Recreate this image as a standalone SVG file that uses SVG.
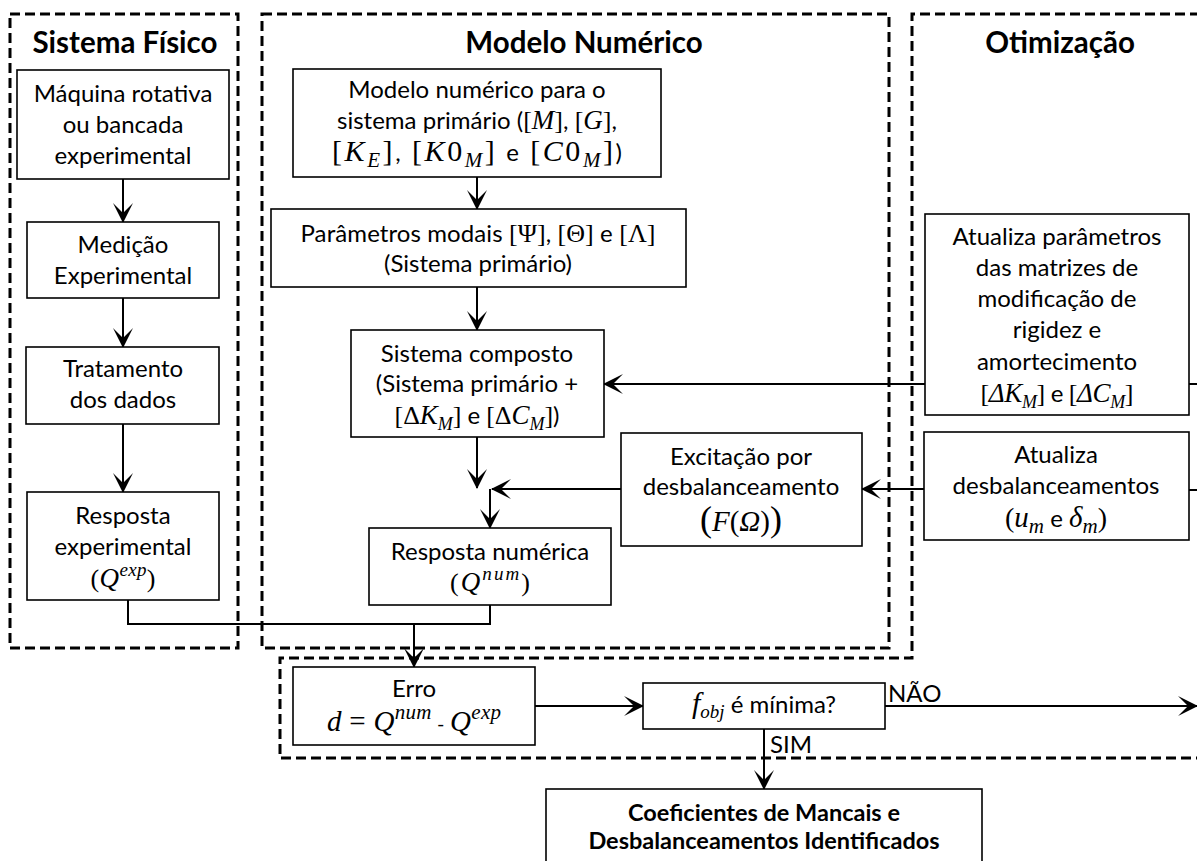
<svg xmlns="http://www.w3.org/2000/svg" width="1197" height="861" viewBox="0 0 1197 861">
<defs>
<style>
.bg{fill:#fff}
.box{fill:#fff;stroke:#000;stroke-width:1.6}
.dash{fill:none;stroke:#000;stroke-width:3;stroke-dasharray:10 5}
.c{fill:none;stroke:#000;stroke-width:2}
.t{font-family:Lato,"Open Sans",sans-serif;font-size:24px;fill:#000;text-anchor:middle}
.l{text-anchor:start}
.h{font-weight:bold;font-size:29.5px}
.b{font-weight:bold;font-size:23.5px}
.m{font-family:"Liberation Serif",serif;font-size:26px}
.mi{font-family:"Liberation Serif",serif;font-style:italic;font-size:27px}
.s{font-size:18px}
.p{font-size:19px}
.L{font-size:30px}
.Ls{font-size:21px}
</style>
<marker id="ah" markerUnits="userSpaceOnUse" markerWidth="24" markerHeight="24" viewBox="-22 -12 24 24" refX="0" refY="0" orient="auto">
<path d="M1,0 L-19,-10 L-9,0 L-19,10 Z" fill="#000"/>
</marker>
</defs>
<rect class="bg" x="0" y="0" width="1197" height="861"/>

<g id="regions">
<rect id="sistema-fisico" class="dash" x="10" y="14" width="228" height="634"/>
<rect id="modelo-numerico" class="dash" x="262" y="14" width="627" height="634"/>
<path id="otimizacao" class="dash" d="M1200,14 H912 V658 H280 V758 H1200"/>
<text class="t h" x="125" y="53">Sistema Físico</text>
<text class="t h" x="584" y="53">Modelo Numérico</text>
<text class="t h" x="1060" y="53">Otimização</text>
</g>

<g id="connectors">
<line class="c" x1="123" y1="179" x2="123" y2="222" marker-end="url(#ah)"/>
<line class="c" x1="123" y1="298" x2="123" y2="347" marker-end="url(#ah)"/>
<line class="c" x1="123" y1="424" x2="123" y2="492" marker-end="url(#ah)"/>
<polyline class="c" points="128,600 128,624 490,624 490,605"/>
<line class="c" x1="414" y1="624" x2="414" y2="667" marker-end="url(#ah)"/>
<line class="c" x1="477" y1="177" x2="477" y2="209" marker-end="url(#ah)"/>
<line class="c" x1="477" y1="287" x2="477" y2="330" marker-end="url(#ah)"/>
<line class="c" x1="477" y1="437" x2="477" y2="488" marker-end="url(#ah)"/>
<line class="c" x1="621" y1="489" x2="492" y2="489" marker-end="url(#ah)"/>
<line class="c" x1="490" y1="489" x2="490" y2="528" marker-end="url(#ah)"/>
<line class="c" x1="925" y1="384" x2="604" y2="384" marker-end="url(#ah)"/>
<line class="c" x1="924" y1="489" x2="862" y2="489" marker-end="url(#ah)"/>
<line class="c" x1="1189" y1="384" x2="1197" y2="384"/>
<line class="c" x1="1189" y1="490" x2="1197" y2="490"/>
<line class="c" x1="535" y1="706" x2="643" y2="706" marker-end="url(#ah)"/>
<line class="c" x1="885" y1="706" x2="1197" y2="706" marker-end="url(#ah)"/>
<line class="c" x1="764" y1="729" x2="764" y2="789" marker-end="url(#ah)"/>
<text class="t l" x="888" y="702">NÃO</text>
<text class="t l" x="770" y="753">SIM</text>
</g>

<g id="maquina">
<rect class="box" x="17" y="70" width="212" height="109"/>
<text class="t" x="123" y="102">Máquina rotativa</text>
<text class="t" x="123" y="133">ou bancada</text>
<text class="t" x="123" y="164">experimental</text>
</g>

<g id="medicao">
<rect class="box" x="27" y="222" width="192" height="76"/>
<text class="t" x="123" y="253">Medição</text>
<text class="t" x="123" y="284">Experimental</text>
</g>

<g id="tratamento">
<rect class="box" x="26" y="347" width="193" height="77"/>
<text class="t" x="123" y="377">Tratamento</text>
<text class="t" x="123" y="408">dos dados</text>
</g>

<g id="resposta-exp">
<rect class="box" x="27" y="492" width="192" height="108"/>
<text class="t" x="123" y="524">Resposta</text>
<text class="t" x="123" y="555">experimental</text>
<text class="t" x="123" y="587" textLength="65" lengthAdjust="spacing"><tspan class="m">(</tspan><tspan class="mi">Q</tspan><tspan class="mi p" dy="-11">exp</tspan><tspan class="m" dy="11">)</tspan></text>
</g>

<g id="modelo">
<rect class="box" x="293" y="69" width="368" height="108"/>
<text class="t" x="477" y="98">Modelo numérico para o</text>
<text class="t" x="477" y="129" textLength="280" lengthAdjust="spacing">sistema primário (<tspan class="m">[</tspan><tspan class="mi">M</tspan><tspan class="m">]</tspan>, <tspan class="m">[</tspan><tspan class="mi">G</tspan><tspan class="m">]</tspan>,</text>
<text class="t" x="477" y="161" textLength="290" lengthAdjust="spacing"><tspan class="m L">[</tspan><tspan class="mi L">K</tspan><tspan class="mi Ls" dy="6">E</tspan><tspan class="m L" dy="-6">]</tspan>, <tspan class="m L">[</tspan><tspan class="mi L">K</tspan><tspan class="m L">0</tspan><tspan class="mi Ls" dy="6">M</tspan><tspan class="m L" dy="-6">]</tspan> e <tspan class="m L">[</tspan><tspan class="mi L">C</tspan><tspan class="m L">0</tspan><tspan class="mi Ls" dy="6">M</tspan><tspan class="m L" dy="-6">]</tspan>)</text>
</g>

<g id="parametros">
<rect class="box" x="271" y="209" width="415" height="78"/>
<text class="t" x="478" y="242" textLength="355" lengthAdjust="spacing">Parâmetros modais <tspan class="m">[Ψ]</tspan>, <tspan class="m">[Θ]</tspan> e <tspan class="m">[Λ]</tspan></text>
<text class="t" x="478" y="272">(Sistema primário)</text>
</g>

<g id="composto">
<rect class="box" x="351" y="330" width="253" height="107"/>
<text class="t" x="477" y="362">Sistema composto</text>
<text class="t" x="477" y="392">(Sistema primário +</text>
<text class="t" x="477" y="424" textLength="165" lengthAdjust="spacing"><tspan class="m">[Δ</tspan><tspan class="mi">K</tspan><tspan class="mi s" dy="6">M</tspan><tspan class="m" dy="-6">]</tspan> e <tspan class="m">[Δ</tspan><tspan class="mi">C</tspan><tspan class="mi s" dy="6">M</tspan><tspan class="m" dy="-6">]</tspan>)</text>
</g>

<g id="resposta-num">
<rect class="box" x="369" y="528" width="242" height="77"/>
<text class="t" x="490" y="560">Resposta numérica</text>
<text class="t" x="490" y="591" textLength="80" lengthAdjust="spacing"><tspan class="m">(</tspan><tspan class="mi">Q</tspan><tspan class="mi p" dy="-11">num</tspan><tspan class="m" dy="11">)</tspan></text>
</g>

<g id="excitacao">
<rect class="box" x="621" y="433" width="241" height="113"/>
<text class="t" x="741" y="465">Excitação por</text>
<text class="t" x="741" y="495">desbalanceamento</text>
<text class="t" x="741" y="531"><tspan class="m" style="font-size:36px">(</tspan><tspan class="mi" style="font-size:29px">F</tspan><tspan class="m" style="font-size:29px">(</tspan><tspan class="mi" style="font-size:29px">Ω</tspan><tspan class="m" style="font-size:29px">)</tspan><tspan class="m" style="font-size:36px">)</tspan></text>
</g>

<g id="atualiza-param">
<rect class="box" x="925" y="214" width="264" height="201"/>
<text class="t" x="1057" y="245">Atualiza parâmetros</text>
<text class="t" x="1057" y="276">das matrizes de</text>
<text class="t" x="1057" y="307">modificação de</text>
<text class="t" x="1057" y="338">rigidez e</text>
<text class="t" x="1057" y="370">amortecimento</text>
<text class="t" x="1057" y="402" textLength="153" lengthAdjust="spacing"><tspan class="m">[</tspan><tspan class="mi">ΔK</tspan><tspan class="mi s" dy="6">M</tspan><tspan class="m" dy="-6">]</tspan> e <tspan class="m">[</tspan><tspan class="mi">ΔC</tspan><tspan class="mi s" dy="6">M</tspan><tspan class="m" dy="-6">]</tspan></text>
</g>

<g id="atualiza-desb">
<rect class="box" x="924" y="432" width="265" height="108"/>
<text class="t" x="1056" y="463">Atualiza</text>
<text class="t" x="1056" y="494">desbalanceamentos</text>
<text class="t" x="1056" y="527"><tspan class="m" style="font-size:28px">(</tspan><tspan class="mi" style="font-size:29px">u</tspan><tspan class="mi Ls" dy="6">m</tspan><tspan dy="-6"> e </tspan><tspan class="mi" style="font-size:29px">δ</tspan><tspan class="mi Ls" dy="6">m</tspan><tspan class="m" style="font-size:28px" dy="-6">)</tspan></text>
</g>

<g id="erro">
<rect class="box" x="293" y="667" width="242" height="78"/>
<text class="t" x="414" y="697">Erro</text>
<text class="t" x="414" y="731" textLength="174" lengthAdjust="spacing"><tspan class="mi" style="font-size:29px">d</tspan><tspan class="m" style="font-size:29px"> = </tspan><tspan class="mi" style="font-size:29px">Q</tspan><tspan class="mi" style="font-size:21px" dy="-12">num</tspan><tspan dy="12" style="font-size:20px"> - </tspan><tspan class="mi" style="font-size:29px">Q</tspan><tspan class="mi" style="font-size:21px" dy="-12">exp</tspan></text>
</g>

<g id="fobj">
<rect class="box" x="643" y="683" width="242" height="46"/>
<text class="t" x="764" y="713"><tspan class="mi" style="font-size:30px">f</tspan><tspan class="mi" style="font-size:19px" dy="5">obj</tspan><tspan dy="-5"> é mínima?</tspan></text>
</g>

<g id="coeficientes">
<rect class="box" x="546" y="789" width="436" height="90"/>
<text class="t b" x="764" y="821">Coeficientes de Mancais e</text>
<text class="t b" x="764" y="849">Desbalanceamentos Identificados</text>
</g>
</svg>
